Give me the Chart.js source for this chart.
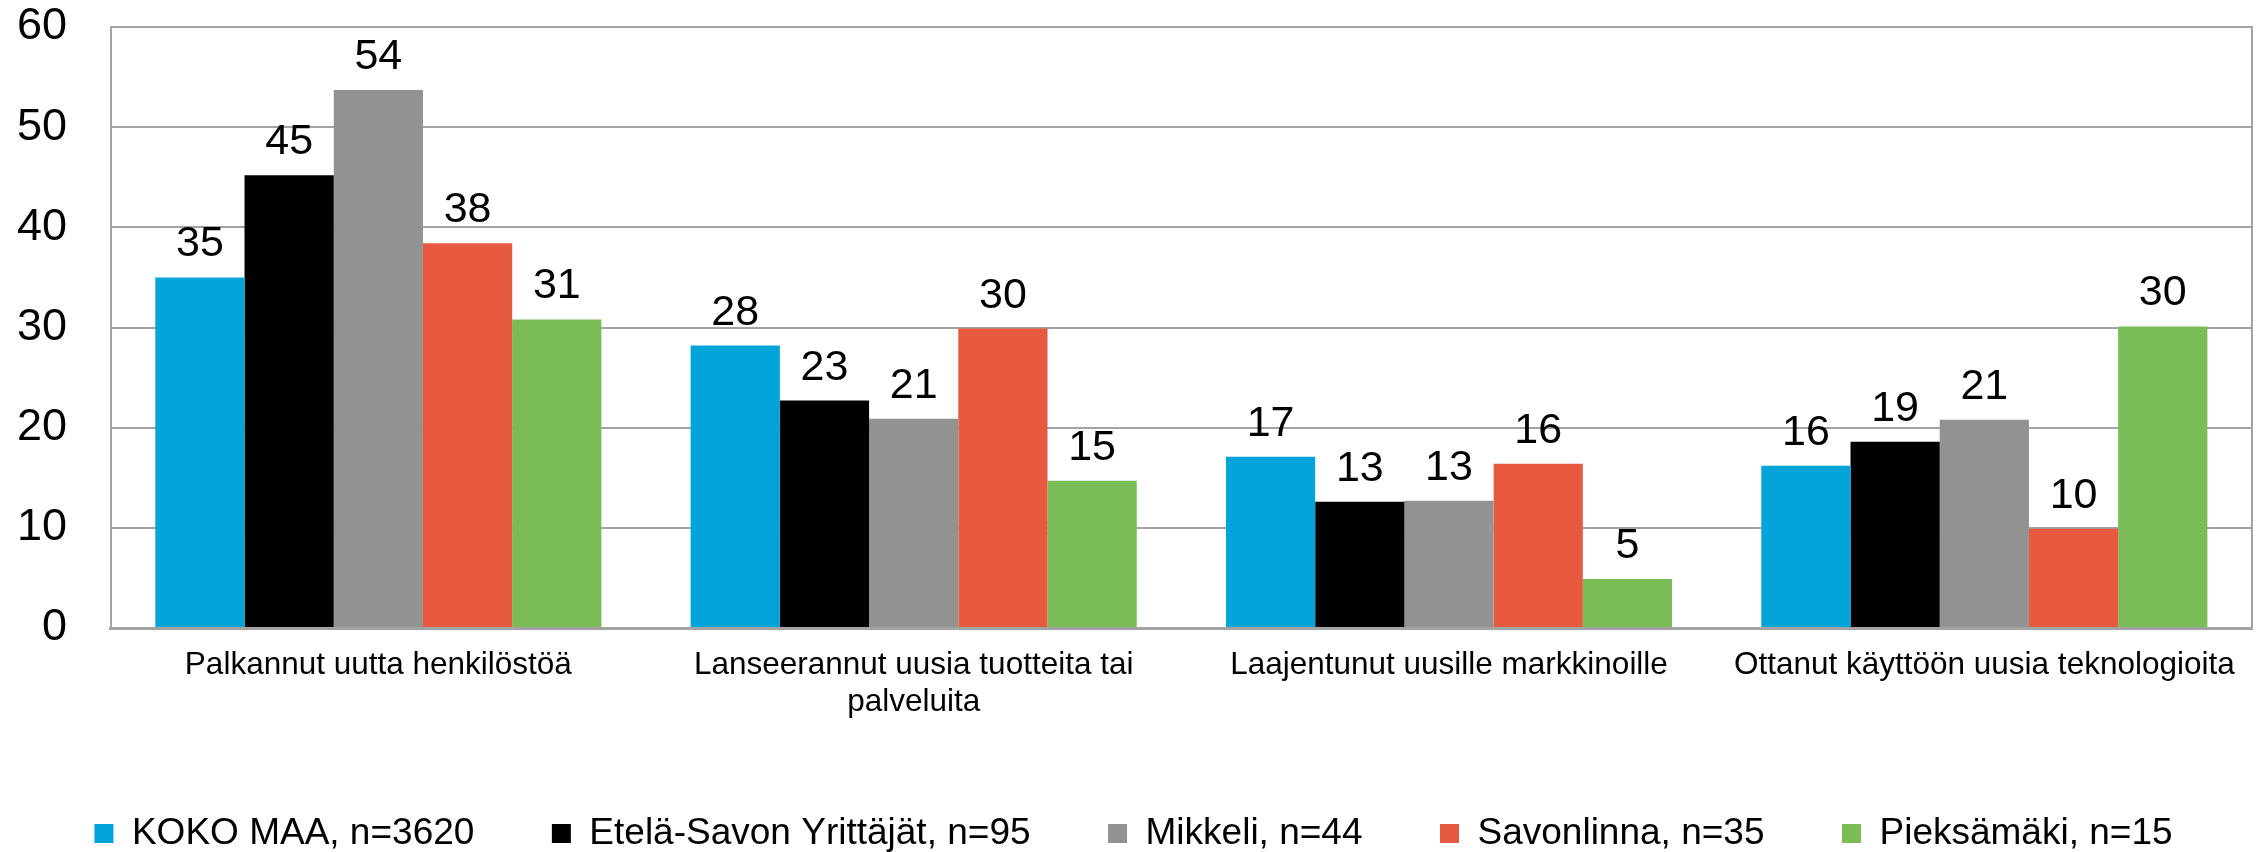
<!DOCTYPE html>
<html>
<head>
<meta charset="utf-8">
<script src="https://cdn.jsdelivr.net/npm/chart.js@4.4.1/dist/chart.umd.min.js"></script>
<style>
  html, body { margin: 0; padding: 0; background: #ffffff; }
  #wrap { width: 2267px; height: 852px; }
</style>
</head>
<body>
<div id="wrap"><canvas id="c" width="2267" height="852"></canvas></div>
<script>
const categories = [
  "Palkannut uutta henkilöstöä",
  ["Lanseerannut uusia tuotteita tai", "palveluita"],
  "Laajentunut uusille markkinoille",
  "Ottanut käyttöön uusia teknologioita"
];
const seriesNames = [
  "KOKO MAA, n=3620",
  "Etelä-Savon Yrittäjät, n=95",
  "Mikkeli, n=44",
  "Savonlinna, n=35",
  "Pieksämäki, n=15"
];
const kokoMaa      = [35.0, 28.2, 17.1, 16.2];
const etelaSavon   = [45.2, 22.7, 12.6, 18.6];
const mikkeli      = [53.7, 20.9, 12.7, 20.8];
const savonlinna   = [38.4, 29.9, 16.4, 9.9];
const pieksamaki   = [30.8, 14.7, 4.9, 30.1];
const yTicks = [0, 10, 20, 30, 40, 50, 60];

const colors = ["#03A4D9", "#000000", "#929292", "#E85A40", "#7ABC55"];
const seriesValues = [kokoMaa, etelaSavon, mikkeli, savonlinna, pieksamaki];
const FONT = "'Liberation Sans', Arial, sans-serif";
const GRID = "#A3A3A3";

const valueLabels = {
  id: 'valueLabels',
  afterDatasetsDraw(chart) {
    const ctx = chart.ctx;
    ctx.save();
    ctx.font = "43px " + FONT;
    ctx.fillStyle = "#000000";
    ctx.textAlign = "center";
    ctx.textBaseline = "alphabetic";
    chart.data.datasets.forEach((ds, i) => {
      const meta = chart.getDatasetMeta(i);
      meta.data.forEach((bar, j) => {
        ctx.fillText(String(Math.round(ds.data[j])), bar.x, bar.y - 21);
      });
    });
    ctx.restore();
  }
};

new Chart(document.getElementById('c'), {
  type: 'bar',
  data: {
    labels: categories,
    datasets: seriesNames.map((name, i) => ({
      label: name,
      data: seriesValues[i],
      backgroundColor: colors[i],
      borderWidth: 0,
      categoryPercentage: 0.8333,
      barPercentage: 1.0,
      yAxisID: 'y'
    }))
  },
  options: {
    responsive: false,
    animation: false,
    devicePixelRatio: 1,
    layout: { padding: { top: 27, left: 0, right: 0, bottom: -10 } },
    plugins: {
      legend: {
        position: 'bottom',
        align: 'center',
        labels: {
          boxWidth: 19,
          boxHeight: 19,
          padding: 77.5,
          color: '#000000',
          font: { family: FONT, size: 37 }
        }
      },
      tooltip: { enabled: false },
      title: { display: false }
    },
    scales: {
      x: {
        grid: { display: false, drawTicks: false },
        border: { display: true, color: GRID, width: 3 },
        ticks: {
          color: '#000000',
          padding: 19,
          maxRotation: 0,
          autoSkip: false,
          font: { family: FONT, size: 31.5, lineHeight: 1.18 }
        },
        afterFit(scale) { scale.height = 109.5; }
      },
      y: {
        min: 0,
        max: 60,
        position: 'left',
        afterBuildTicks(scale) { scale.ticks = yTicks.map(v => ({ value: v })); },
        grid: { color: GRID, lineWidth: 2, drawTicks: true, tickLength: 43.7, tickColor: 'rgba(0,0,0,0)' },
        border: { display: true, color: GRID, width: 2 },
        ticks: {
          color: '#000000',
          padding: 0,
          font: { family: FONT, size: 45 }
        },
        afterFit(scale) { scale.width = 110.7; }
      },
      y2: {
        min: 0,
        max: 60,
        position: 'right',
        grid: { display: false, drawTicks: false },
        border: { display: true, color: GRID, width: 2 },
        ticks: { display: false },
        afterFit(scale) { scale.width = 15; }
      }
    }
  },
  plugins: [valueLabels]
});
</script>
</body>
</html>
